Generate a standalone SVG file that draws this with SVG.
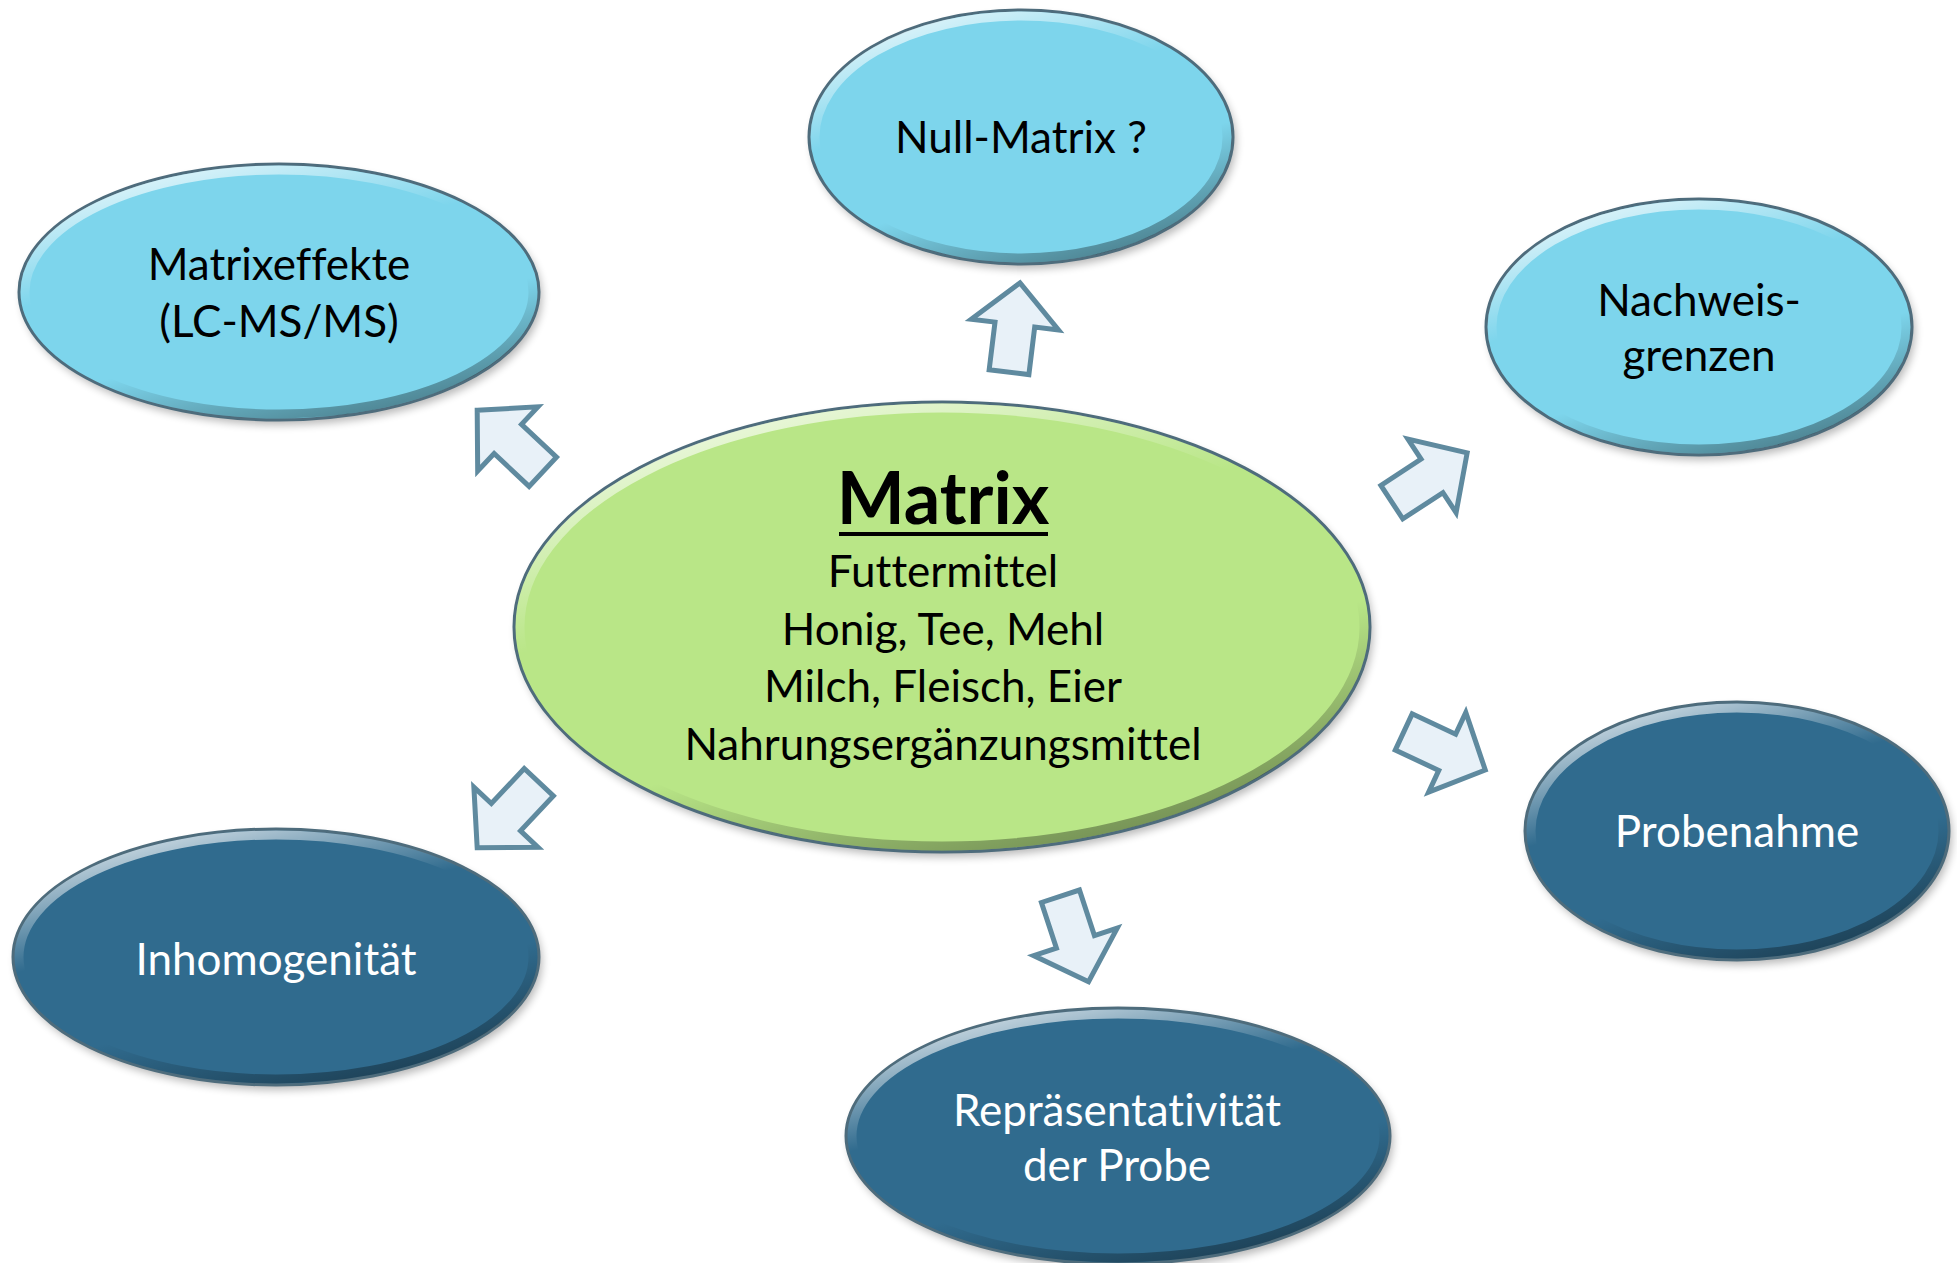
<svg xmlns="http://www.w3.org/2000/svg" width="1957" height="1263" viewBox="0 0 1957 1263">
<style>
.t{font-family:Lato,"Open Sans","Liberation Sans",sans-serif;font-size:44px;text-anchor:middle;font-variant-ligatures:none;font-feature-settings:"liga" 0,"clig" 0}
.dk{fill:#000}
.lt{fill:#fff}
.edge{stroke:#4e6c7c;stroke-width:3}
.rim{fill:none;stroke:url(#rim);stroke-width:9}
.shadow{fill:#000;opacity:0.28;filter:url(#blur)}
.light{fill:#7dd5ec}
.dark{fill:#306b8e}
.green{fill:#b9e687}
.arrow{fill:#e8f1f8;stroke:#5f8a9f;stroke-width:5;stroke-linejoin:miter}
</style>
<defs>
<linearGradient id="rim" x1="0.25" y1="0" x2="0.75" y2="1">
<stop offset="0" stop-color="#fff" stop-opacity="0.75"/>
<stop offset="0.35" stop-color="#fff" stop-opacity="0"/>
<stop offset="0.65" stop-color="#000" stop-opacity="0"/>
<stop offset="1" stop-color="#000" stop-opacity="0.4"/>
</linearGradient>
<filter id="blur" x="-10%" y="-10%" width="120%" height="120%"><feGaussianBlur stdDeviation="4"/></filter>
<path id="arr" d="M0,-45 L44,-3 L20,-3 L20,45 L-20,45 L-20,-3 L-44,-3 Z"/>
</defs>
<rect width="1957" height="1263" fill="#fff"/>

<g id="connectors">
<use href="#arr" class="arrow" transform="translate(1014.5,327.5) rotate(7)"/>
<use href="#arr" class="arrow" transform="translate(510,441) rotate(-46.8)"/>
<use href="#arr" class="arrow" transform="translate(1429.5,477.5) rotate(56.8)"/>
<use href="#arr" class="arrow" transform="translate(1444.5,751) rotate(115)"/>
<use href="#arr" class="arrow" transform="translate(508,815) rotate(-136.8)"/>
<use href="#arr" class="arrow" transform="translate(1074.5,939) rotate(161.8)"/>
</g>

<g id="matrix">
<ellipse class="shadow" cx="945" cy="632" rx="428" ry="225"/>
<ellipse class="green edge" cx="942" cy="627" rx="428" ry="225"/>
<ellipse class="rim" cx="942" cy="627" rx="422" ry="219"/>
<text class="t dk" x="943" y="524" style="font-size:72px;font-weight:bold">Matrix</text>
<rect x="839" y="532" width="209" height="4" fill="#000"/>
<text class="t dk" x="943" y="587">Futtermittel</text>
<text class="t dk" x="943" y="645">Honig, Tee, Mehl</text>
<text class="t dk" x="943" y="702">Milch, Fleisch, Eier</text>
<text class="t dk" x="943" y="760">Nahrungsergänzungsmittel</text>
</g>

<g id="null-matrix">
<ellipse class="shadow" cx="1024" cy="142" rx="212" ry="127"/>
<ellipse class="light edge" cx="1021" cy="137" rx="212" ry="127"/>
<ellipse class="rim" cx="1021" cy="137" rx="206" ry="121"/>
<text class="t dk" x="1021" y="153">Null-Matrix ?</text>
</g>

<g id="matrixeffekte">
<ellipse class="shadow" cx="282" cy="297" rx="260" ry="128"/>
<ellipse class="light edge" cx="279" cy="292" rx="260" ry="128"/>
<ellipse class="rim" cx="279" cy="292" rx="254" ry="122"/>
<text class="t dk" x="279" y="280">Matrixeffekte</text>
<text class="t dk" x="279" y="337">(LC-MS/MS)</text>
</g>

<g id="nachweisgrenzen">
<ellipse class="shadow" cx="1702" cy="332" rx="213" ry="128"/>
<ellipse class="light edge" cx="1699" cy="327" rx="213" ry="128"/>
<ellipse class="rim" cx="1699" cy="327" rx="207" ry="122"/>
<text class="t dk" x="1699" y="316">Nachweis-</text>
<text class="t dk" x="1699" y="371">grenzen</text>
</g>

<g id="probenahme">
<ellipse class="shadow" cx="1740" cy="836" rx="212" ry="129"/>
<ellipse class="dark edge" cx="1737" cy="831" rx="212" ry="129"/>
<ellipse class="rim" cx="1737" cy="831" rx="206" ry="123"/>
<text class="t lt" x="1737" y="847">Probenahme</text>
</g>

<g id="inhomogenitaet">
<ellipse class="shadow" cx="279" cy="962" rx="263" ry="128"/>
<ellipse class="dark edge" cx="276" cy="957" rx="263" ry="128"/>
<ellipse class="rim" cx="276" cy="957" rx="257" ry="122"/>
<text class="t lt" x="276" y="975">Inhomogenität</text>
</g>

<g id="repraesentativitaet">
<ellipse class="shadow" cx="1121" cy="1141" rx="272" ry="128"/>
<ellipse class="dark edge" cx="1118" cy="1136" rx="272" ry="128"/>
<ellipse class="rim" cx="1118" cy="1136" rx="266" ry="122"/>
<text class="t lt" x="1117" y="1126">Repräsentativität</text>
<text class="t lt" x="1117" y="1181">der Probe</text>
</g>
</svg>
